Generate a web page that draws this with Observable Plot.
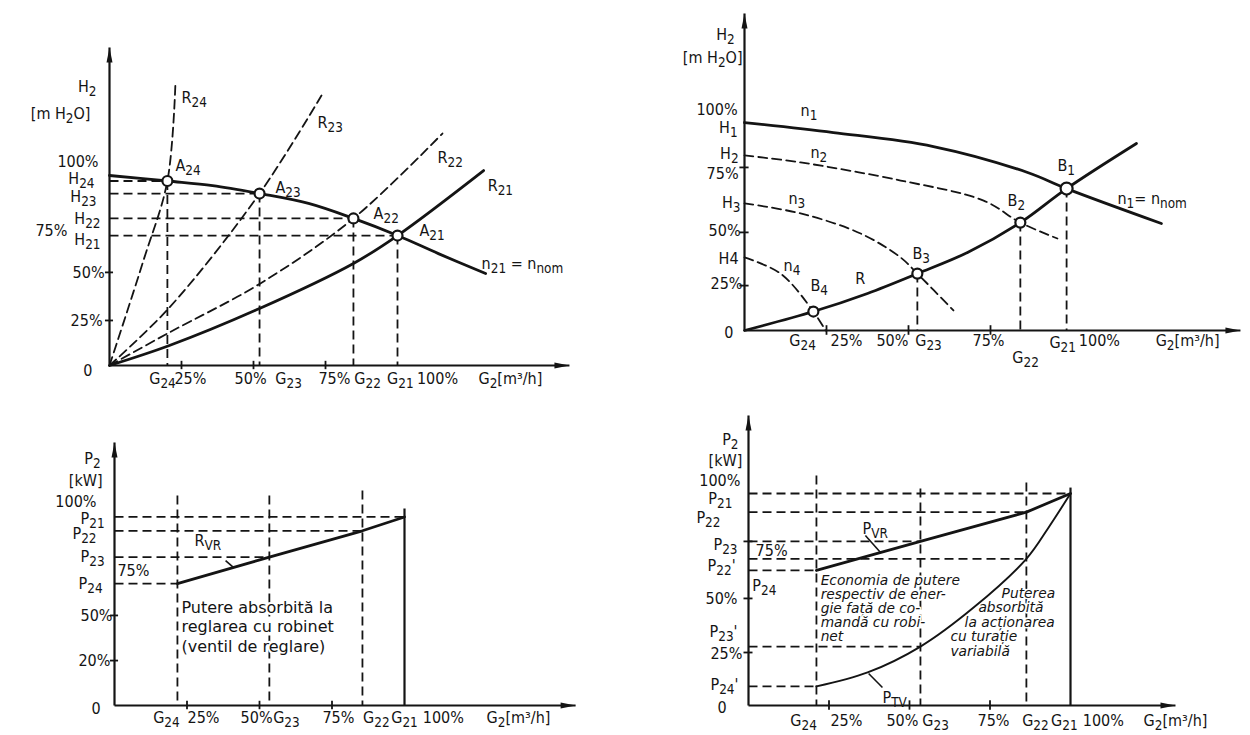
<!DOCTYPE html>
<html>
<head>
<meta charset="utf-8">
<script src="https://cdn.jsdelivr.net/npm/d3@7"></script>
<script src="https://cdn.jsdelivr.net/npm/@observablehq/plot@0.6"></script>
<style>
  html, body { margin: 0; padding: 0; background: #fff; overflow: hidden; }
  #page { position: relative; width: 1250px; height: 735px; background: #fff; }
  #page svg { position: absolute; left: 0; top: 0; }
</style>
</head>
<body>
<div id="page"></div>
<script>
// All quantities are in % of the nominal value (flow G2, head H2, power P2).

// ---------- (a) throttle control: pump curve n21 = nnom, system curves R21…R24 ----------
const thrG = [20.1, 52.1, 84.7, 100];          // G24, G23, G22, G21
const thrH = [97.1, 90.5, 77.4, 68.4];         // H24, H23, H22, H21
const pumpN21Flow = [0, 20.1, 35.8, 52.1, 69.1, 84.7, 100, 114.2, 130.6];
const pumpN21Head = [100, 97.1, 94.7, 90.5, 85.3, 77.4, 68.4, 58.9, 48.4];
const sysR21Flow = [0, 20.8, 52.1, 84.7, 100, 129.9];
const sysR21Head = [0, 10.5, 30, 53.7, 68.4, 102.6];
const sysR22Flow = [0, 20.8, 52.4, 84.7, 115.6];
const sysR22Head = [0, 17.4, 43.2, 77.4, 122.1];
const sysR23Flow = [0, 20.8, 52.1, 73.6];
const sysR23Head = [0, 30.5, 90.5, 142.1];
const sysR24Flow = [0, 11.8, 20.1, 22.9];
const sysR24Head = [0, 55.3, 97.1, 148.9];
const aYLabels = [
  {t: "H_{2}", x: -4.5, y: 146.8}, {t: "[m H_{2}O]", x: -6.6, y: 132.6},
  {t: "100%", x: -3.8, y: 107.2}, {t: "H_{24}", x: -5.2, y: 98.1}, {t: "H_{23}", x: -4.5, y: 88.9},
  {t: "H_{22}", x: -3.1, y: 77}, {t: "75%", x: -14.6, y: 71}, {t: "H_{21}", x: -3.1, y: 66.3},
  {t: "50%", x: -1.7, y: 49}, {t: "25%", x: -2.4, y: 23.7}, {t: "0", x: -5.9, y: -2.6}
];
const aXLabels = [
  {t: "G_{24}", x: 18.4}, {t: "25%", x: 28.1}, {t: "50%", x: 49}, {t: "G_{23}", x: 62.2},
  {t: "75%", x: 78.1}, {t: "G_{22}", x: 89.6}, {t: "G_{21}", x: 101}, {t: "100%", x: 113.9},
  {t: "G_{2}[m³/h]", x: 139.2}
];
const aCurveLabels = [
  {t: "R_{24}", x: 25, y: 141}, {t: "R_{23}", x: 72.2, y: 127.9}, {t: "R_{22}", x: 113.9, y: 109.5},
  {t: "R_{21}", x: 131.3, y: 94.7}, {t: "A_{24}", x: 22.9, y: 105.3}, {t: "A_{23}", x: 57.6, y: 93.7},
  {t: "A_{22}", x: 91.7, y: 80}, {t: "A_{21}", x: 107.6, y: 71}, {t: "n_{21} = n_{nom}", x: 129.2, y: 53.7}
];
const aYTicks = [23.7, 49];

// ---------- (b) speed control: pump curves n1…n4 on one system curve R ----------
const spdG = [21, 52.7, 84.1, 98.2];           // G24, G23, G22, G21
const spdH = [8.7, 26.1, 49.5, 65.1];          // heads at B4, B3, B2, B1
const pumpN1Flow = [0, 27.1, 57.6, 86.3, 98.2, 127.1];
const pumpN1Head = [95.4, 90.8, 84.4, 72.5, 65.1, 49.1];
const pumpN2Flow = [0, 17.1, 47.6, 72.9, 84.1, 95.4];
const pumpN2Head = [80.3, 77.1, 68.8, 59.6, 49.5, 42.2];
const pumpN3Flow = [0, 17.1, 35.4, 47.6, 52.7, 63.7];
const pumpN3Head = [58.3, 53.7, 44.5, 33.5, 26.1, 9.2];
const pumpN4Flow = [0, 11, 21, 24.7];
const pumpN4Head = [33.5, 26.1, 8.7, 0];
const sysRFlow = [0, 21, 37.5, 52.7, 68, 84.1, 98.2, 119.5];
const sysRHead = [0, 8.7, 17, 26.1, 35.8, 49.5, 65.1, 85.8];
const bYLabels = [
  {t: "H_{2}", x: -3, y: 135.4}, {t: "[m H_{2}O]", x: -0.6, y: 125.2},
  {t: "100%", x: -2.1, y: 101.4}, {t: "H_{1}", x: -2.1, y: 93.1}, {t: "H_{2}", x: -1.8, y: 81.2},
  {t: "75%", x: -1.8, y: 72}, {t: "H_{3}", x: -1.2, y: 58.7}, {t: "50%", x: -1.2, y: 45.9},
  {t: "H4", x: -1.8, y: 33}, {t: "25%", x: -0.6, y: 21.6}, {t: "0", x: -3.4, y: -0.9}
];
const bXLabels = [
  {t: "G_{24}", x: 17.7, y: -4.6}, {t: "25%", x: 31.1, y: -4.6}, {t: "50%", x: 45.1, y: -4.6},
  {t: "G_{23}", x: 56.1, y: -4.6}, {t: "75%", x: 74.4, y: -4.6}, {t: "G_{22}", x: 85.7, y: -12.4},
  {t: "G_{21}", x: 97, y: -5.5}, {t: "100%", x: 108.2, y: -4.6}, {t: "G_{2}[m³/h]", x: 135.1, y: -4.6}
];
const bCurveLabels = [
  {t: "n_{1}", x: 17.1, y: 100.9}, {t: "n_{2}", x: 20.1, y: 81.7}, {t: "n_{3}", x: 13.4, y: 60.6},
  {t: "n_{4}", x: 11.9, y: 29.8}, {t: "R", x: 33.8, y: 23.9}, {t: "B_{4}", x: 20.1, y: 20.6},
  {t: "B_{3}", x: 51.2, y: 35.3}, {t: "B_{2}", x: 80.2, y: 59.6}, {t: "B_{1}", x: 95.4, y: 75.7},
  {t: "n_{1}= n_{nom}", x: 113.7, y: 60.6}
];
const bYTicks = [20.6, 45, 74.8];

// ---------- (c) absorbed power with throttle-valve control ----------
const vrG = [21.7, 53.4, 85.5, 100];           // G24, G23, G22, G21
const vrP = [63.5, 77.3, 91, 98.2];            // P24, P23, P22, P21
const vrGuideTop = [109.4, 109.4, 112];        // upper ends of the G24…G22 verticals
const vrG21Top = 102.6;
const cYLabels = [
  {t: "P_{2}", x: -4.8, y: 128.6}, {t: "[kW]", x: -4.1, y: 117.2},
  {t: "100%", x: -6.2, y: 106}, {t: "P_{21}", x: -3.4, y: 97.4}, {t: "P_{22}", x: -6.2, y: 89.4},
  {t: "P_{23}", x: -3.4, y: 77.6}, {t: "P_{24}", x: -4.1, y: 63.5}, {t: "50%", x: -0.7, y: 46.9},
  {t: "20%", x: -1.4, y: 23.4}, {t: "0", x: -4.8, y: -1.6}
];
const cInnerLabels = [{t: "75%", x: 1, y: 70.3}];
const cXLabels = [
  {t: "G_{24}", x: 17.9}, {t: "25%", x: 30.7}, {t: "50%", x: 49}, {t: "G_{23}", x: 59.3},
  {t: "75%", x: 77.2}, {t: "G_{22}", x: 90.3}, {t: "G_{21}", x: 100}, {t: "100%", x: 113.4},
  {t: "G_{2}[m³/h]", x: 139.3}
];
const cNote = ["Putere absorbită la", "reglarea cu robinet", "(ventil de reglare)"];
const cYTicks = [23.4, 46.9];

// ---------- (d) throttle control vs. variable-speed drive ----------
const cmpG = [21.1, 53.4, 86.3, 100];          // G24, G23, G22, G21
const cmpPVR = [63.7, 77.4, 91.2, 100];        // P24, P23, P22, P21
const cmpPTVFlow = [21.1, 37, 53.4, 69.9, 86.3, 93.2, 100];
const cmpPTV = [9, 15.6, 27.8, 46.2, 69.2, 84, 100];   // P24', P23' and P22' lie at the G points
const cmpGuideTop = [108.5, 102.4, 105.2];
const cmpG21Top = 102.8;
const dYLabels = [
  {t: "P_{2}", x: -3.1, y: 125.2}, {t: "[kW]", x: -1.9, y: 115.2},
  {t: "100%", x: -2.5, y: 105.8}, {t: "P_{21}", x: -5, y: 97.3}, {t: "P_{22}", x: -8.7, y: 88.7},
  {t: "P_{23}", x: -3.4, y: 76}, {t: "P_{22}'", x: -4, y: 66}, {t: "50%", x: -3.4, y: 50.5},
  {t: "P_{23}'", x: -3.4, y: 34.6}, {t: "25%", x: -1.9, y: 24.5}, {t: "P_{24}'", x: -3.1, y: 9.8},
  {t: "0", x: -6.8, y: -0.9}
];
const dInnerLabels = [{t: "75%", x: 2.2, y: 72.8}, {t: "P_{24}", x: 1.2, y: 56.6}];
const dXLabels = [
  {t: "G_{24}", x: 17.1}, {t: "25%", x: 30.4}, {t: "50%", x: 47.8}, {t: "G_{23}", x: 58.1},
  {t: "75%", x: 76.1}, {t: "G_{22}", x: 89.1}, {t: "G_{21}", x: 98.1}, {t: "100%", x: 110.2},
  {t: "G_{2}[m³/h]", x: 132.6}
];
const dCurveLabels = [{t: "P_{VR}", x: 35.4, y: 83.5}, {t: "P_{TV}", x: 41.6, y: 3.8}];
const dNoteSaving = ["Economia de putere", "respectiv de ener-", "gie față de co-", "mandă cu robi-", "net"];
const dNoteDrive = [
  {t: "Puterea", x: 78.6, y: 52.8}, {t: "absorbită", x: 71.4, y: 46.2},
  {t: "la acționarea", x: 67.1, y: 38.9}, {t: "cu turație", x: 62.7, y: 32.3},
  {t: "variabilă", x: 62.7, y: 25.4}
];
const dYTicks = [25, 50.5, 77.4];

// ---------------------------------------------------------------------------
const INK = "#141414";
const LABEL_FONT = '"DejaVu Sans Condensed", "Liberation Sans Narrow", "DejaVu Sans", sans-serif';
const NOTE_FONT = '"DejaVu Sans", sans-serif';
const DASH = "9,5";
const page = document.getElementById("page");

const pts = (xs, ys) => xs.map((x, i) => ({x, y: ys[i]}));

// narrow filled arrowheads, tip at the symbol origin
const arrowUp = {draw(c, size) { const r = Math.sqrt(size / Math.PI); c.moveTo(0, 0); c.lineTo(-0.6 * r, 3 * r); c.lineTo(0.6 * r, 3 * r); c.closePath(); }};
const arrowRight = {draw(c, size) { const r = Math.sqrt(size / Math.PI); c.moveTo(0, 0); c.lineTo(-3 * r, -0.6 * r); c.lineTo(-3 * r, 0.6 * r); c.closePath(); }};

function axes(xEnd, yEnd, xTicks, yTicks) {
  return [
    Plot.link([{x1: 0, y1: 0, x2: xEnd, y2: 0}, {x1: 0, y1: 0, x2: 0, y2: yEnd}],
      {x1: "x1", y1: "y1", x2: "x2", y2: "y2", stroke: INK, strokeWidth: 2.2}),
    Plot.dot([{x: xEnd, y: 0}], {x: "x", y: "y", symbol: arrowRight, r: 5, fill: INK, stroke: "none"}),
    Plot.dot([{x: 0, y: yEnd}], {x: "x", y: "y", symbol: arrowUp, r: 5, fill: INK, stroke: "none"}),
    Plot.ruleX(xTicks, {x: d => d, y1: -2.2, y2: 2.2, stroke: INK, strokeWidth: 1.8}),
    Plot.ruleY(yTicks, {y: d => d, x1: -1.4, x2: 1.4, stroke: INK, strokeWidth: 1.8})
  ];
}

const curve = (data, opts) => Plot.line(data, {x: "x", y: "y", stroke: INK, strokeWidth: 2.8, curve: "catmull-rom", ...opts});
const dashed = (data, opts) => curve(data, {strokeWidth: 1.8, strokeDasharray: DASH, ...opts});
const links = (data, opts) => Plot.link(data, {x1: "x1", y1: "y1", x2: "x2", y2: "y2", stroke: INK, strokeWidth: 1.8, strokeDasharray: DASH, ...opts});
const words = (data, opts) => Plot.text(data, {x: "x", y: "y", text: "t", fill: INK, fontFamily: LABEL_FONT, fontSize: 16, ...opts});
const rings = (xs, ys, r = 5) => Plot.dot(pts(xs, ys), {x: "x", y: "y", r, fill: "white", stroke: INK, strokeWidth: 2.2});

// "X_{ab}" → X with a lowered subscript
function applySubscripts(svg) {
  const NS = "http://www.w3.org/2000/svg";
  for (const el of svg.querySelectorAll("text")) {
    if (el.querySelector("tspan")) continue;
    const s = el.textContent;
    if (!s.includes("_{")) continue;
    el.textContent = "";
    let cur = 0, last = 0, m;
    const push = (str, off, small) => {
      if (!str) return;
      const ts = document.createElementNS(NS, "tspan");
      ts.setAttribute("dy", (off - cur) + "px");
      if (small) ts.setAttribute("font-size", "84%");
      ts.textContent = str;
      el.appendChild(ts);
      cur = off;
    };
    const re = /_\{([^}]*)\}/g;
    while ((m = re.exec(s))) { push(s.slice(last, m.index), 0, false); push(m[1], 4, true); last = re.lastIndex; }
    push(s.slice(last), 0, false);
  }
}

function draw(frame, marks) {
  const svg = Plot.plot({
    width: 1250, height: 735, margin: 0,
    x: {type: "linear", domain: [0, 100], range: frame.x, axis: null},
    y: {type: "linear", domain: [0, 100], range: frame.y, axis: null},
    style: {background: "transparent", overflow: "visible"},
    marks
  });
  applySubscripts(svg);
  page.appendChild(svg);
}

// ---------- (a) ----------
draw({x: [109, 397], y: [365, 175]}, [
  links(thrG.flatMap((g, i) => [
    {x1: 0, y1: thrH[i], x2: g, y2: thrH[i]},
    {x1: g, y1: thrH[i], x2: g, y2: 0}
  ])),
  dashed(pts(sysR22Flow, sysR22Head)),
  dashed(pts(sysR23Flow, sysR23Head)),
  dashed(pts(sysR24Flow, sysR24Head)),
  curve(pts(sysR21Flow, sysR21Head)),
  curve(pts(pumpN21Flow, pumpN21Head)),
  ...axes(159.7, 167.4, [25, 50, 75], aYTicks),
  rings(thrG, thrH),
  words(aYLabels, {textAnchor: "end"}),
  words(aXLabels, {y: -6.8}),
  words(aCurveLabels, {textAnchor: "start"})
]);

// ---------- (b) ----------
draw({x: [744, 1072], y: [330, 112]}, [
  links(spdG.slice(1).map((g, i) => ({x1: g, y1: spdH[i + 1], x2: g, y2: 0}))),
  dashed(pts(pumpN2Flow, pumpN2Head)),
  dashed(pts(pumpN3Flow, pumpN3Head)),
  dashed(pts(pumpN4Flow, pumpN4Head)),
  curve(pts(pumpN1Flow, pumpN1Head)),
  curve(pts(sysRFlow, sysRHead)),
  ...axes(151.2, 145.4, [25, 50, 75], bYTicks),
  rings(spdG.slice(0, 3), spdH.slice(0, 3)),
  rings([spdG[3]], [spdH[3]], 6),
  words(bYLabels, {textAnchor: "end"}),
  words(bXLabels),
  words(bCurveLabels, {textAnchor: "start"})
]);

// ---------- (c) ----------
draw({x: [114, 404], y: [705, 513]}, [
  links(vrG.map((g, i) => ({x1: 0, y1: vrP[i], x2: g, y2: vrP[i]}))),
  links(vrGuideTop.map((top, i) => ({x1: vrG[i], y1: top, x2: vrG[i], y2: 0}))),
  links([{x1: vrG[3], y1: vrG21Top, x2: vrG[3], y2: 0}], {strokeDasharray: null, strokeWidth: 2.2}),
  curve(pts(vrG, vrP), {curve: "linear"}),
  links([{x1: 38.3, y1: 75.5, x2: 41, y2: 71.9}], {strokeDasharray: null, strokeWidth: 1.6}),
  ...axes(159, 137, [25, 50, 75], cYTicks),
  words(cYLabels, {textAnchor: "end"}),
  words(cInnerLabels, {textAnchor: "start"}),
  words(cXLabels, {y: -6.3}),
  words([{t: "R_{VR}", x: 27.6, y: 85.9}], {textAnchor: "start"}),
  Plot.text([cNote.join("\n")], {x: 23.1, y: 50.5, text: d => d, textAnchor: "start", lineAnchor: "top",
    dy: -9, lineHeight: 1.2, fontFamily: NOTE_FONT, fontSize: 16, fill: INK, stroke: "white", strokeWidth: 4})
]);

// ---------- (d) ----------
draw({x: [748, 1070], y: [705, 493]}, [
  links(cmpG.map((g, i) => ({x1: 0, y1: cmpPVR[i], x2: g, y2: cmpPVR[i]}))),
  links([0, 2, 4].map(k => ({x1: 0, y1: cmpPTV[k], x2: cmpPTVFlow[k], y2: cmpPTV[k]}))),
  links(cmpGuideTop.map((top, i) => ({x1: cmpG[i], y1: top, x2: cmpG[i], y2: 0}))),
  links([{x1: cmpG[3], y1: cmpG21Top, x2: cmpG[3], y2: 0}], {strokeDasharray: null, strokeWidth: 2.2}),
  Plot.text([dNoteSaving.join("\n")], {x: 22.4, y: 58, text: d => d, textAnchor: "start", lineAnchor: "top",
    dy: -7, lineHeight: 1, fontFamily: NOTE_FONT, fontStyle: "italic", fontSize: 13.8, fill: INK, stroke: "white", strokeWidth: 3}),
  words(dNoteDrive, {textAnchor: "start", fontFamily: NOTE_FONT, fontStyle: "italic", fontSize: 13.8, stroke: "white", strokeWidth: 3}),
  curve(pts(cmpG, cmpPVR), {curve: "linear"}),
  curve(pts(cmpPTVFlow, cmpPTV), {strokeWidth: 1.9}),
  links([{x1: 36.3, y1: 80.2, x2: 41, y2: 72.2}, {x1: 37.3, y1: 15.1, x2: 41.6, y2: 8.5}], {strokeDasharray: null, strokeWidth: 1.6}),
  ...axes(132.6, 136.8, [25, 50, 75], dYTicks),
  words(dYLabels, {textAnchor: "end"}),
  words(dInnerLabels, {textAnchor: "start"}),
  words(dXLabels, {y: -7.1}),
  words(dCurveLabels, {textAnchor: "start"})
]);
</script>
</body>
</html>
